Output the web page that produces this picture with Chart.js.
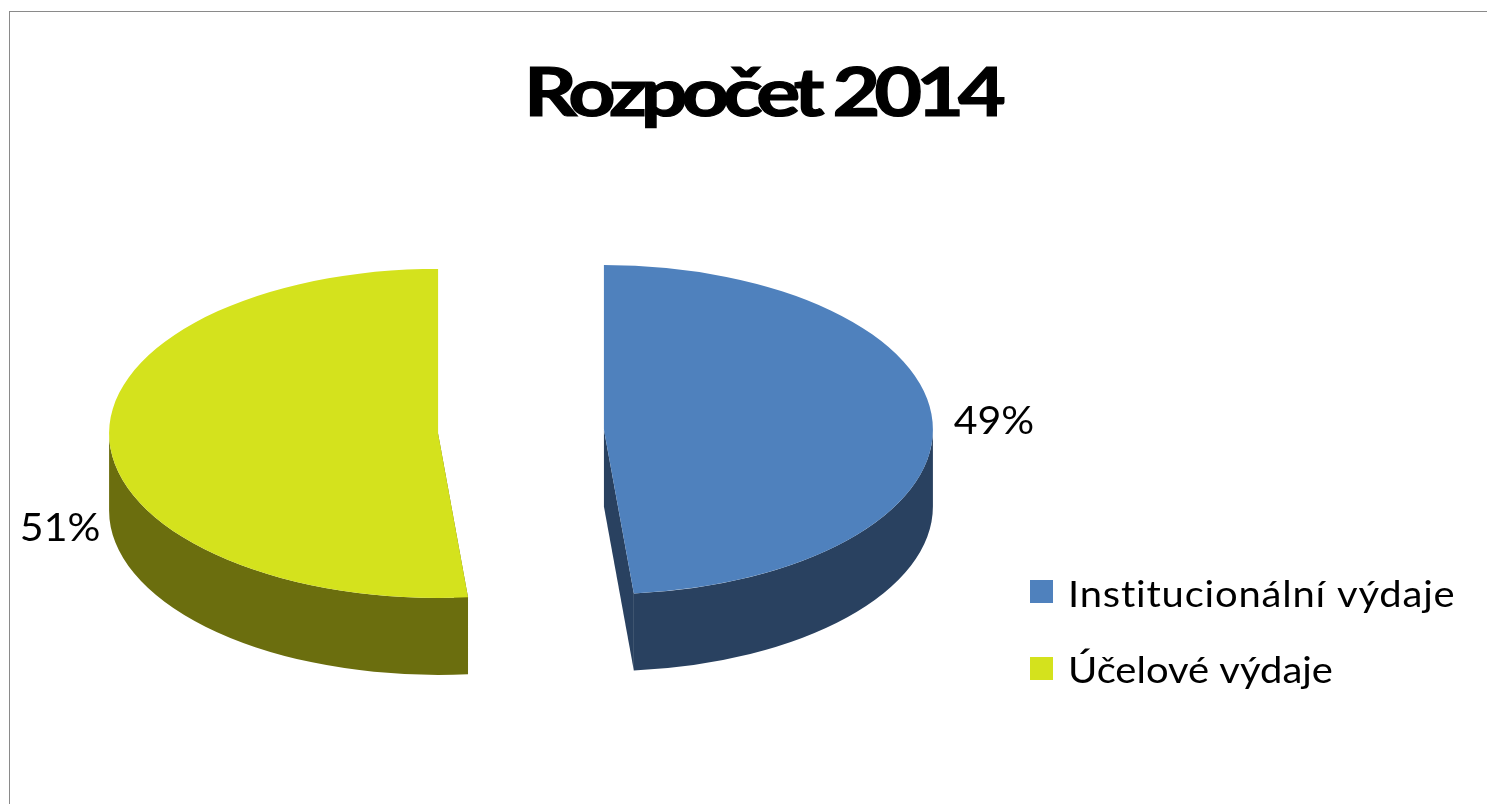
<!DOCTYPE html>
<html>
<head>
<meta charset="utf-8">
<script src="https://cdn.jsdelivr.net/npm/chart.js@4/dist/chart.umd.js"></script>
<style>
  html, body { margin: 0; padding: 0; background: #fff; overflow: hidden; }
  #wrap { position: relative; width: 1487px; height: 804px; }
  #frame { position: absolute; left: 9px; top: 11px; width: 1478px; height: 793px;
           border-top: 1px solid #8a8a8a; border-left: 1px solid #8a8a8a; box-sizing: border-box; }
</style>
</head>
<body>
<div id="wrap">
  <canvas id="chart" width="1487" height="804"></canvas>
  <div id="frame"></div>
</div>
<script>
const titleText = 'Rozpočet 2014';
const categories = ['Institucionální výdaje', 'Účelové výdaje'];
const values = [48.55, 51.45];
const percentLabels = ['49%', '51%'];
const topColors = ['#4f81bd', '#d4e21d'];
const sideColors = ['#294160', '#6b6e0e'];

// fake 3d: the pie is flattened, pulled apart and given a wall
const squash = 0.5;
const depth = 77;
const explode = 83;
const labelNudge = [[61, -8], [-49, 95]];
const legendTracking = [0.75, 0];

// the reference text is stretched sideways, so scale x around the anchor
function wideText(ctx, text, x, y, sx, tracking, bold) {
  ctx.save();
  ctx.translate(x, y);
  ctx.scale(sx, 1);
  ctx.letterSpacing = tracking + 'px';
  ctx.fillText(text, 0, 0);
  if (bold) {
    ctx.lineWidth = bold;
    ctx.strokeStyle = ctx.fillStyle;
    ctx.strokeText(text, 0, 0);
  }
  ctx.restore();
}

const pie3d = {
  id: 'pie3d',
  beforeDatasetsDraw(chart) {
    const ctx = chart.ctx;
    const arcs = chart.getDatasetMeta(0).data;
    arcs.forEach((arc, i) => {
      const mid = (arc.startAngle + arc.endAngle) / 2;
      const dx = Math.cos(mid) * explode;
      const dy = Math.sin(mid) * explode * squash;
      const cx = arc.x + dx;
      const cy = arc.y + dy;
      const r = arc.outerRadius;
      const px = a => cx + Math.cos(a) * r;
      const py = a => cy + Math.sin(a) * r * squash;
      ctx.save();
      ctx.fillStyle = sideColors[i];
      // cut faces
      [arc.startAngle, arc.endAngle].forEach(a => {
        ctx.beginPath();
        ctx.moveTo(cx, cy);
        ctx.lineTo(cx, cy + depth);
        ctx.lineTo(px(a), py(a) + depth);
        ctx.lineTo(px(a), py(a));
        ctx.closePath();
        ctx.fill();
      });
      // outer wall, only the part that faces the viewer
      const twoPi = Math.PI * 2;
      for (let k = -1; k <= 1; k++) {
        const from = Math.max(arc.startAngle, k * twoPi);
        const to = Math.min(arc.endAngle, k * twoPi + Math.PI);
        if (from >= to) continue;
        ctx.beginPath();
        ctx.ellipse(cx, cy, r, r * squash, 0, from, to);
        ctx.ellipse(cx, cy + depth, r, r * squash, 0, to, from, true);
        ctx.closePath();
        ctx.fill();
      }
      ctx.restore();
      // top surface is the library's own arc, flattened
      ctx.save();
      ctx.translate(dx, cy);
      ctx.scale(1, squash);
      ctx.translate(0, -arc.y);
      arc.draw(ctx, chart.chartArea);
      ctx.restore();

      ctx.save();
      ctx.fillStyle = '#000';
      ctx.font = '38px Lato';
      ctx.textAlign = 'center';
      ctx.textBaseline = 'middle';
      const side = Math.cos(mid) > 0 ? 1 : -1;
      wideText(ctx, percentLabels[i], cx + side * r + labelNudge[i][0], cy + labelNudge[i][1], 1.08, 0);
      ctx.restore();
    });
    return false;
  },
  afterDraw(chart) {
    const ctx = chart.ctx;
    ctx.save();
    ctx.fillStyle = '#000';
    ctx.font = 'bold 66px Lato';
    ctx.textAlign = 'left';
    ctx.textBaseline = 'alphabetic';
    wideText(ctx, titleText, 524, 116, 1.25, -4.8, 1.2);
    ctx.font = '37px Lato';
    categories.forEach((name, i) => {
      const base = 607 + i * 76;
      ctx.fillStyle = topColors[i];
      ctx.fillRect(1030, base - 27 + i, 23, 23);
      ctx.fillStyle = '#000';
      wideText(ctx, name, 1068, base, 1.08, legendTracking[i]);
    });
    ctx.restore();
  },
};

new Chart(document.getElementById('chart'), {
  type: 'pie',
  data: {
    labels: categories,
    datasets: [{
      data: values,
      backgroundColor: topColors,
      borderWidth: 0,
      hoverOffset: 0,
    }],
  },
  options: {
    responsive: false,
    animation: false,
    radius: 329,
    layout: { padding: { top: 59, right: 445 } },
    plugins: { legend: { display: false }, title: { display: false }, tooltip: { enabled: false } },
  },
  plugins: [pie3d],
});
</script>
</body>
</html>
